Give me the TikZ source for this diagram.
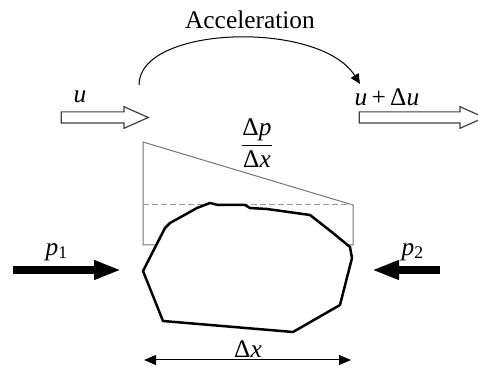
\documentclass[tikz,border=0pt]{standalone}
\usepackage{fontspec}
\setmainfont{Liberation Serif}
\usepackage{tikz}
\usetikzlibrary{arrows.meta, shapes.arrows}

\begin{document}
\begin{tikzpicture}[x=0.5pt, y=-0.5pt,
    lbl/.style={inner sep=0pt, font=\fontsize{12.7}{15}\selectfont},
    flowarrow/.style={single arrow, draw=black!75, fill=white, line width=0.6pt, inner sep=2.5pt,
        single arrow head extend=2.6pt, single arrow tip angle=48, anchor=center},
    force/.style={line width=4pt, -{Triangle[length=13.5pt, width=9pt]}},
    guide/.style={draw=black!55, line width=0.5pt},
    blob/.style={draw=black, fill=white, line width=1.25pt, line join=round},
    dim/.style={line width=0.5pt, {Triangle[length=6pt, width=5pt]}-{Triangle[length=6pt, width=5pt]}}]
    \useasboundingbox (0,0) rectangle (478,369);

    % velocity in and out
    \node[flowarrow, minimum height=43.5pt] (uin) at (98.5,117.5) {};
    \node[flowarrow, minimum height=62.5pt] (uout) at (415.5,117.5) {};
    \node[lbl] (ulbl) at (80,97) {\textit{u}};
    \node[lbl] (uoutlbl) at (387,97) {\textit{u}\,+\,Δ\textit{u}};

    % acceleration
    \node[lbl] (accel) at (250,20) {Acceleration};
    \coordinate (arcstart) at (139,85);
    \coordinate (arcend) at (360,84);
    \draw[line width=0.5pt, -{Triangle[length=5pt, width=4.5pt]}]
        (arcstart) .. controls (139,25) and (320,20) .. (arcend);

    % pressure gradient
    \node[lbl] (grad) at (257,143) {$\displaystyle\frac{\mbox{Δ\textit{p}}}{\mbox{Δ\textit{x}}}$};
    \draw[guide] (143,142) -- (143,245) -- (353,245) -- (353,205) -- cycle;
    \draw[guide, dashed, draw=black!40, dash pattern=on 3pt off 1.5pt] (143,205) -- (353,205);

    % fluid element
    \draw[blob] (143,271) -- (165,228) -- (170,223) -- (197,208) -- (210,203) -- (218,205)
        -- (245,205) -- (250,208) -- (267,209) -- (310,215) -- (333,233) -- (350,247)
        -- (352,258) -- (340,305) -- (293,332) -- (163,321) -- cycle;

    % pressure forces
    \coordinate (p1tail) at (13,270);
    \coordinate (p1tip) at (121,270);
    \coordinate (p2tail) at (440,270);
    \coordinate (p2tip) at (372,270);
    \draw[force] (p1tail) -- (p1tip);
    \draw[force] (p2tail) -- (p2tip);
    \node[lbl] (p1lbl) at (57,252) {\textit{p}\textsubscript{1}};
    \node[lbl] (p2lbl) at (413,252) {\textit{p}\textsubscript{2}};

    % element length
    \coordinate (dxleft) at (144,360);
    \coordinate (dxright) at (351,360);
    \draw[dim] (dxleft) -- (dxright);
    \node[lbl] (dxlbl) at (248,349) {Δ\textit{x}};
\end{tikzpicture}
\end{document}
